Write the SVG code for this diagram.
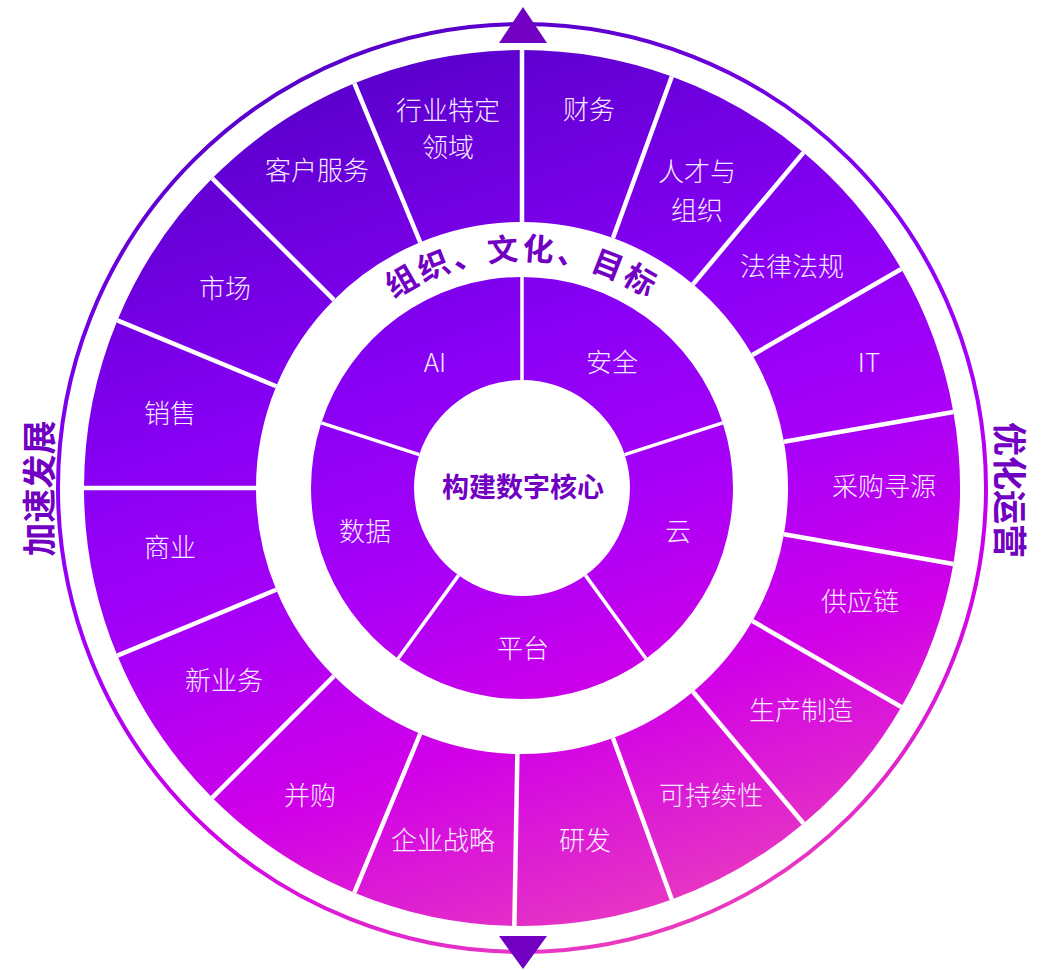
<svg xmlns="http://www.w3.org/2000/svg" width="1041" height="970" viewBox="0 0 1041 970">
<defs>
  <linearGradient id="g" gradientUnits="userSpaceOnUse" x1="350" y1="40" x2="650" y2="940">
    <stop offset="0" stop-color="#5500C8"/>
    <stop offset="0.35" stop-color="#8800F5"/>
    <stop offset="0.55" stop-color="#A800F8"/>
    <stop offset="0.75" stop-color="#D000E8"/>
    <stop offset="1" stop-color="#EA3CBE"/>
  </linearGradient>
  <path id="arcText" d="M 294 488 A 228 228 0 0 1 750 488"/>
</defs>
<style>
  .seg{fill:url(#g)}
  .lbl{font-family:"Noto Sans CJK SC","Noto Sans",sans-serif;font-size:26px;font-weight:300;fill:#F5EAFF;text-anchor:middle}
  .title{font-family:"Noto Sans CJK SC","Noto Sans",sans-serif;font-weight:700;fill:#7100C2;text-anchor:middle}
  .dv{stroke:#FFFFFF;stroke-width:4.5}
  .dvi{stroke:#FFFFFF;stroke-width:3.5}
  .tri{fill:#7100C2}
</style>
<rect width="1041" height="970" fill="#FFFFFF"/>

<g id="frame">
  <circle cx="522" cy="488" r="464" fill="none" stroke="url(#g)" stroke-width="4"/>
  <polygon class="tri" points="523,7 547,43 499,43"/>
  <polygon class="tri" points="499,936 547,936 523,969"/>
  <text class="title" font-size="34" transform="translate(38.5,488.5) rotate(-90)" x="0" y="13">加速发展</text>
  <text class="title" font-size="34" transform="translate(1010,490) rotate(90)" x="0" y="13">优化运营</text>
</g>

<g id="seg-finance"><path class="seg" d="M522,50 A438,438 0 0 1 671.80,76.42 L612.98,238.04 A266,266 0 0 0 522,222 Z"/><text class="lbl" x="589" y="119">财务</text></g>
<g id="seg-talent"><path class="seg" d="M671.80,76.42 A438,438 0 0 1 803.54,152.47 L692.98,284.23 A266,266 0 0 0 612.98,238.04 Z"/><text class="lbl" x="697" y="181">人才与</text><text class="lbl" x="697" y="220">组织</text></g>
<g id="seg-legal"><path class="seg" d="M803.54,152.47 A438,438 0 0 1 901.32,269 L752.36,355 A266,266 0 0 0 692.98,284.23 Z"/><text class="lbl" x="792" y="276">法律法规</text></g>
<g id="seg-it"><path class="seg" d="M901.32,269 A438,438 0 0 1 953.35,411.94 L783.96,441.81 A266,266 0 0 0 752.36,355 Z"/><text class="lbl" x="869" y="372">IT</text></g>
<g id="seg-sourcing"><path class="seg" d="M953.35,411.94 A438,438 0 0 1 953.35,564.06 L783.96,534.19 A266,266 0 0 0 783.96,441.81 Z"/><text class="lbl" x="884" y="496">采购寻源</text></g>
<g id="seg-supply"><path class="seg" d="M953.35,564.06 A438,438 0 0 1 901.32,707 L752.36,621 A266,266 0 0 0 783.96,534.19 Z"/><text class="lbl" x="860" y="611">供应链</text></g>
<g id="seg-manufacturing"><path class="seg" d="M901.32,707 A438,438 0 0 1 803.54,823.53 L692.98,691.77 A266,266 0 0 0 752.36,621 Z"/><text class="lbl" x="801" y="720">生产制造</text></g>
<g id="seg-sustainability"><path class="seg" d="M803.54,823.53 A438,438 0 0 1 671.80,899.58 L612.98,737.96 A266,266 0 0 0 692.98,691.77 Z"/><text class="lbl" x="711" y="805">可持续性</text></g>
<g id="seg-rnd"><path class="seg" d="M671.80,899.58 A438,438 0 0 1 514.36,925.93 L517.36,753.96 A266,266 0 0 0 612.98,737.96 Z"/><text class="lbl" x="585" y="850">研发</text></g>
<g id="seg-strategy"><path class="seg" d="M514.36,925.93 A438,438 0 0 1 354.39,892.66 L420.21,733.75 A266,266 0 0 0 517.36,753.96 Z"/><text class="lbl" x="443" y="850">企业战略</text></g>
<g id="seg-mna"><path class="seg" d="M354.39,892.66 A438,438 0 0 1 212.29,797.71 L333.91,676.09 A266,266 0 0 0 420.21,733.75 Z"/><text class="lbl" x="310" y="805">并购</text></g>
<g id="seg-newbiz"><path class="seg" d="M212.29,797.71 A438,438 0 0 1 117.34,655.61 L276.25,589.79 A266,266 0 0 0 333.91,676.09 Z"/><text class="lbl" x="224" y="690">新业务</text></g>
<g id="seg-commerce"><path class="seg" d="M117.34,655.61 A438,438 0 0 1 84,488 L256,488 A266,266 0 0 0 276.25,589.79 Z"/><text class="lbl" x="170" y="557">商业</text></g>
<g id="seg-sales"><path class="seg" d="M84,488 A438,438 0 0 1 117.34,320.39 L276.25,386.21 A266,266 0 0 0 256,488 Z"/><text class="lbl" x="170" y="423">销售</text></g>
<g id="seg-marketing"><path class="seg" d="M117.34,320.39 A438,438 0 0 1 212.29,178.29 L333.91,299.91 A266,266 0 0 0 276.25,386.21 Z"/><text class="lbl" x="225" y="298">市场</text></g>
<g id="seg-service"><path class="seg" d="M212.29,178.29 A438,438 0 0 1 354.39,83.34 L420.21,242.25 A266,266 0 0 0 333.91,299.91 Z"/><text class="lbl" x="317" y="180">客户服务</text></g>
<g id="seg-industry"><path class="seg" d="M354.39,83.34 A438,438 0 0 1 522,50 L522,222 A266,266 0 0 0 420.21,242.25 Z"/><text class="lbl" x="448" y="120">行业特定</text><text class="lbl" x="448" y="157">领域</text></g>

<g id="core-ai"><path class="seg" d="M321.33,422.80 A211,211 0 0 1 522,277 L522,380 A108,108 0 0 0 419.29,454.63 Z"/><text class="lbl" x="435" y="372">AI</text></g>
<g id="core-security"><path class="seg" d="M522,277 A211,211 0 0 1 722.67,422.80 L624.71,454.63 A108,108 0 0 0 522,380 Z"/><text class="lbl" x="612" y="372">安全</text></g>
<g id="core-cloud"><path class="seg" d="M722.67,422.80 A211,211 0 0 1 646.02,658.70 L585.48,575.37 A108,108 0 0 0 624.71,454.63 Z"/><text class="lbl" x="678" y="541">云</text></g>
<g id="core-platform"><path class="seg" d="M646.02,658.70 A211,211 0 0 1 397.98,658.70 L458.52,575.37 A108,108 0 0 0 585.48,575.37 Z"/><text class="lbl" x="523" y="658">平台</text></g>
<g id="core-data"><path class="seg" d="M397.98,658.70 A211,211 0 0 1 321.33,422.80 L419.29,454.63 A108,108 0 0 0 458.52,575.37 Z"/><text class="lbl" x="365" y="541">数据</text></g>

<g id="dividers">
  <line class="dv" x1="522" y1="222" x2="522" y2="50"/>
  <line class="dv" x1="612.98" y1="238.04" x2="671.80" y2="76.42"/>
  <line class="dv" x1="692.98" y1="284.23" x2="803.54" y2="152.47"/>
  <line class="dv" x1="752.36" y1="355" x2="901.32" y2="269"/>
  <line class="dv" x1="783.96" y1="441.81" x2="953.35" y2="411.94"/>
  <line class="dv" x1="783.96" y1="534.19" x2="953.35" y2="564.06"/>
  <line class="dv" x1="752.36" y1="621" x2="901.32" y2="707"/>
  <line class="dv" x1="692.98" y1="691.77" x2="803.54" y2="823.53"/>
  <line class="dv" x1="612.98" y1="737.96" x2="671.80" y2="899.58"/>
  <line class="dv" x1="517.36" y1="753.96" x2="514.36" y2="925.93"/>
  <line class="dv" x1="420.21" y1="733.75" x2="354.39" y2="892.66"/>
  <line class="dv" x1="333.91" y1="676.09" x2="212.29" y2="797.71"/>
  <line class="dv" x1="276.25" y1="589.79" x2="117.34" y2="655.61"/>
  <line class="dv" x1="256" y1="488" x2="84" y2="488"/>
  <line class="dv" x1="276.25" y1="386.21" x2="117.34" y2="320.39"/>
  <line class="dv" x1="333.91" y1="299.91" x2="212.29" y2="178.29"/>
  <line class="dv" x1="420.21" y1="242.25" x2="354.39" y2="83.34"/>
  <line class="dvi" x1="522" y1="380" x2="522" y2="277"/>
  <line class="dvi" x1="624.71" y1="454.63" x2="722.67" y2="422.80"/>
  <line class="dvi" x1="585.48" y1="575.37" x2="646.02" y2="658.70"/>
  <line class="dvi" x1="458.52" y1="575.37" x2="397.98" y2="658.70"/>
  <line class="dvi" x1="419.29" y1="454.63" x2="321.33" y2="422.80"/>
</g>

<g id="band">
  <text class="title" font-size="31" letter-spacing="3"><textPath href="#arcText" startOffset="50%">组织、文化、目标</textPath></text>
</g>

<g id="center">
  <circle cx="522" cy="488" r="106" fill="#FFFFFF"/>
  <text class="title" font-size="27" x="523" y="497">构建数字核心</text>
</g>
</svg>
